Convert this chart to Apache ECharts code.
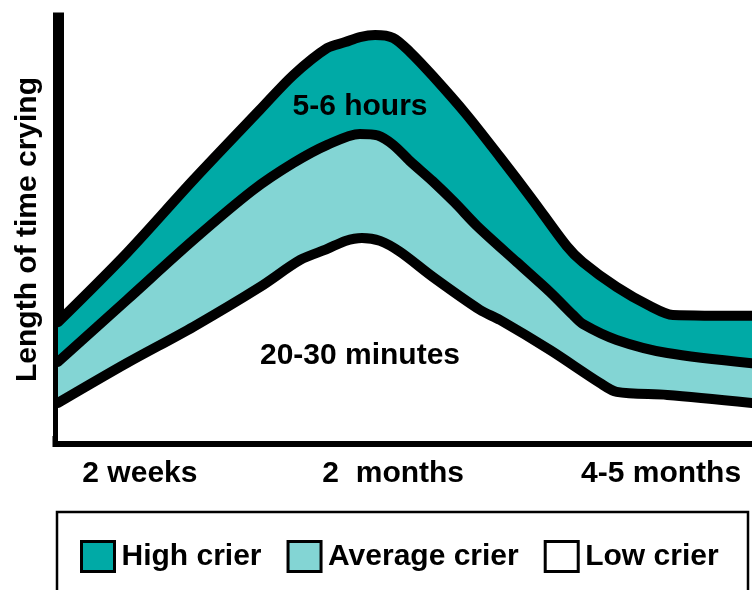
<!DOCTYPE html>
<html>
<head>
<meta charset="utf-8">
<script src="https://cdn.jsdelivr.net/npm/echarts@6/dist/echarts.min.js"></script>
<style>
html,body{margin:0;padding:0;background:#fff;}
#chart{width:752px;height:590px;}
</style>
</head>
<body>
<div id="chart"></div>
<script>
// ---- data (x: relative age position 0-100, y: relative crying length 0-100) ----
const seriesNames = ['High crier', 'Average crier', 'Low crier'];
const highCrier = [[0,28.1],[9.9,44.4],[19.5,61.7],[29.1,78.3],[33.9,86.5],[38.8,92.9],[41.4,94.3],[43.5,95.5],[45.7,96.0],[48.3,95.3],[50.7,92.0],[54.0,86.3],[58.9,77.1],[63.7,67.1],[68.4,57.0],[73.3,46.1],[75.6,42.3],[80.5,36.4],[85.3,31.9],[88.6,29.8],[100,29.6]];
const averageCrier = [[0,18.7],[9.9,33.3],[19.5,47.5],[28.1,59.3],[33.9,65.7],[38.8,70.0],[43.5,72.6],[46.1,72.2],[48.3,70.0],[50.7,66.2],[54.0,61.4],[57.2,56.3],[60.4,50.8],[66.1,42.3],[70.9,35.2],[74.2,29.8],[75.6,27.7],[80.5,23.9],[87.8,20.8],[100,18.4]];
const lowCrier = [[0,9.0],[9.9,18.4],[19.5,27.0],[29.1,36.4],[34.9,42.8],[38.8,45.4],[41.4,47.3],[43.8,48.0],[46.4,47.3],[49.3,44.7],[54.0,38.8],[60.8,31.0],[63.7,28.6],[70.9,21.5],[78.1,13.7],[80.5,11.6],[87.8,10.9],[100,9.0]];
const xTickValues = [11.8, 48.3, 86.9];
const xTickLabels = ['2 weeks', '2  months', '4-5 months'];
const yAxisTitle = 'Length of time crying';
const bandLabels = ['5-6 hours', '20-30 minutes'];

const colors = ['#00aaa6', '#83d5d4', '#ffffff'];
const FONT = '"Liberation Sans", Arial, Helvetica, sans-serif';

const chart = echarts.init(document.getElementById('chart'), null, {renderer: 'canvas'});
const allData = [highCrier, averageCrier, lowCrier];

const option = {
  animation: false,
  backgroundColor: '#ffffff',
  grid: {left: 58, right: 0, top: 18, bottom: 149, containLabel: false},
  xAxis: {
    type: 'value', min: 0, max: 100,
    splitLine: {show: false},
    axisTick: {show: false},
    axisLine: {show: true, onZero: false, lineStyle: {color: '#000', width: 11, cap: 'square'}},
    axisLabel: {
      show: true,
      customValues: xTickValues,
      margin: 18,
      color: '#000',
      fontFamily: FONT,
      fontWeight: 'bold',
      fontSize: 30,
      formatter: function (v) {
        let best = 0, d = Infinity;
        xTickValues.forEach((t, i) => { if (Math.abs(t - v) < d) { d = Math.abs(t - v); best = i; } });
        return xTickLabels[best];
      }
    }
  },
  yAxis: {
    type: 'value', min: 0, max: 100,
    splitLine: {show: false},
    axisTick: {show: false},
    axisLabel: {show: false},
    axisLine: {show: true, onZero: false, lineStyle: {color: '#000', width: 11, cap: 'square'}},
    name: yAxisTitle,
    nameLocation: 'middle',
    nameRotate: 90,
    nameGap: 15,
    nameTextStyle: {color: '#000', fontFamily: FONT, fontWeight: 'bold', fontSize: 30}
  },
  legend: {
    left: 80, top: 540, padding: 0,
    itemWidth: 33, itemHeight: 30, itemGap: 25,
    selectedMode: false,
    textStyle: {color: '#000', fontFamily: FONT, fontWeight: 'bold', fontSize: 30, padding: [0,0,0,2]},
    data: seriesNames.map((n, i) => ({
      name: n, icon: 'rect',
      itemStyle: {color: colors[i], borderColor: '#000', borderWidth: 3}
    }))
  },
  graphic: [
    {type: 'rect', shape: {x: 57, y: 512, width: 691, height: 90}, style: {fill: 'none', stroke: '#000', lineWidth: 2.5}, z: 10},
    {type: 'text', x: 360, y: 107, style: {text: bandLabels[0], fill: '#000', font: 'bold 30px ' + FONT, textAlign: 'center', textVerticalAlign: 'middle'}, z: 10},
    {type: 'text', x: 360, y: 356, style: {text: bandLabels[1], fill: '#000', font: 'bold 30px ' + FONT, textAlign: 'center', textVerticalAlign: 'middle'}, z: 10}
  ],
  series: seriesNames.map((n, i) => ({
    name: n,
    type: 'line',
    data: allData[i],
    smooth: 0.3,
    symbol: 'none',
    z: 2 + i,
    itemStyle: {color: colors[i]},
    lineStyle: {color: '#000', width: 10, join: 'round', cap: 'round'},
    areaStyle: {color: colors[i], opacity: 1, origin: 'start'}
  }))
};
chart.setOption(option);
</script>
</body>
</html>
